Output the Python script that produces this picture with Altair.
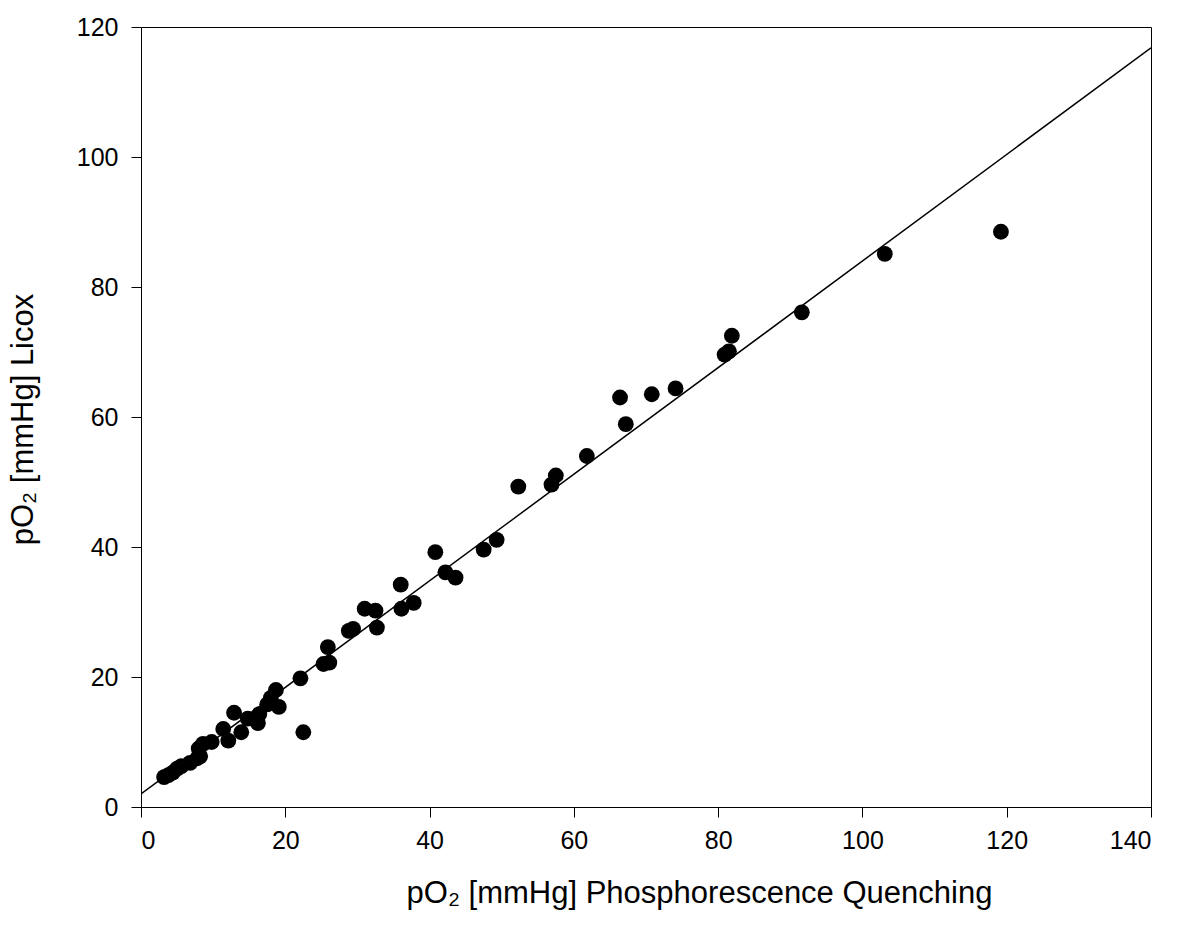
import altair as alt
import pandas as pd

# Measured pO2 values: phosphorescence quenching (x) vs Licox (y)
pq_values = [3.2, 3.8, 4.4, 5.0, 5.6, 6.8, 7.8, 8.2, 8.0, 8.6, 9.8, 11.4, 12.1, 12.9,
             13.9, 14.8, 16.2, 16.4, 17.5, 18.0, 18.7, 19.1, 22.1, 22.5, 25.3, 26.1,
             25.9, 28.8, 29.4, 31.0, 32.5, 32.7, 36.0, 36.1, 37.8, 40.8, 42.2, 43.6,
             47.5, 49.3, 52.3, 56.9, 57.5, 61.8, 66.4, 67.2, 70.8, 74.1, 80.9, 81.5,
             81.9, 91.6, 103.1, 119.2]
licox_values = [4.6, 4.9, 5.3, 5.9, 6.3, 6.8, 7.5, 7.8, 9.0, 9.7, 10.0, 12.0, 10.2, 14.5,
                11.5, 13.6, 12.9, 14.3, 15.8, 16.8, 18.0, 15.4, 19.8, 11.5, 22.0, 22.2,
                24.6, 27.1, 27.4, 30.5, 30.2, 27.6, 34.2, 30.5, 31.4, 39.2, 36.1, 35.3,
                39.6, 41.1, 49.3, 49.6, 51.0, 54.0, 63.0, 58.9, 63.5, 64.4, 69.6, 70.1,
                72.5, 76.1, 85.1, 88.5]

# Fitted regression line
fit_intercept = 2.0
fit_slope = 0.82
line_x = [0, 140]

x_ticks = [0, 20, 40, 60, 80, 100, 120, 140]
y_ticks = [0, 20, 40, 60, 80, 100, 120]

points = pd.DataFrame({"x": pq_values, "y": licox_values})
fit = pd.DataFrame({"x": line_x, "y": [fit_intercept + fit_slope * v for v in line_x]})

FONT = "Liberation Sans"

x_enc = alt.X(
    "x:Q",
    scale=alt.Scale(domain=[0, 140], nice=False, zero=False),
    axis=alt.Axis(
        values=x_ticks,
        title="pO₂ [mmHg] Phosphorescence Quenching",
        grid=False,
        tickSize=10,
        labelPadding=11,
        titleX=558,
        titleY=86,
        titleBaseline="middle",
    ),
)
y_enc = alt.Y(
    "y:Q",
    scale=alt.Scale(domain=[0, 120], nice=False, zero=False),
    axis=alt.Axis(
        values=y_ticks,
        title="pO₂ [mmHg] Licox",
        grid=False,
        tickSize=10,
        labelPadding=13,
        titleX=-118,
        titleY=392,
        titleAngle=-90,
        titleBaseline="middle",
        titleAlign="center",
    ),
)

line = alt.Chart(fit).mark_line(color="black", strokeWidth=1.5, clip=True).encode(x=x_enc, y=y_enc)
dots = alt.Chart(points).mark_circle(color="black", opacity=1, size=250).encode(x="x:Q", y="y:Q")

chart = (
    alt.layer(line, dots)
    .properties(
        width=1010,
        height=780,
        autosize=alt.AutoSizeParams(type="none"),
        padding={"left": 141, "top": 27, "right": 30, "bottom": 118},
        background="white",
    )
    .configure_view(stroke="black", strokeWidth=1)
    .configure_axis(
        domainColor="black",
        domainWidth=1,
        tickColor="black",
        tickWidth=1,
        labelFont=FONT,
        labelFontSize=25,
        labelColor="black",
        titleFont=FONT,
        titleFontSize=31,
        titleFontWeight="normal",
        titleColor="black",
    )
)

chart.save("out.html", embed_options={"renderer": "svg", "actions": False})
